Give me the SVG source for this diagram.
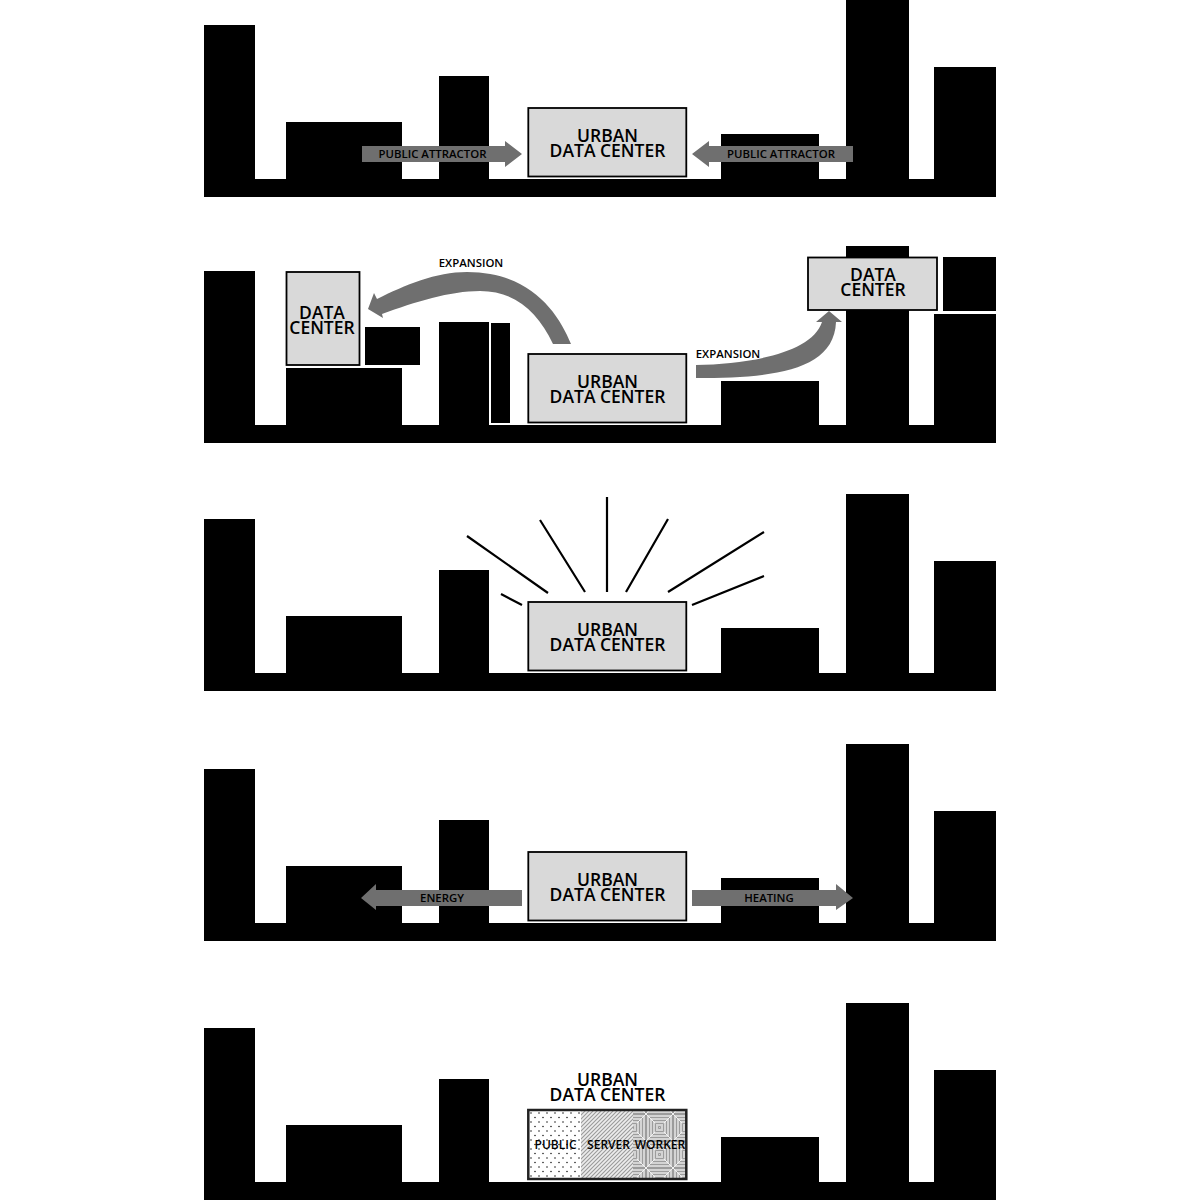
<svg xmlns="http://www.w3.org/2000/svg" width="1200" height="1200" viewBox="0 0 1200 1200">
<style>
.dc{fill:#d9d9d9;stroke:#000;stroke-width:1.800}
.t{font-family:"Open Sans","Liberation Sans",sans-serif;font-weight:600;text-anchor:middle;fill:#000}
.big{font-size:17.5px}
.sm{font-size:11.400px}
.sm2{font-size:12px}
.ar{fill:#6f6f6f}
.ray{stroke:#000;stroke-width:2.200;fill:none}
</style>
<defs>
<path id="city" d="M204 197V25H255V179H286V122H402V179H439V76H489V179H721V134H819V179H846V0H909V179H934V67H996V197Z"/>
<pattern id="dots" width="8" height="9" patternUnits="userSpaceOnUse" x="529" y="1111"><rect width="8" height="9" fill="#fff"/><circle cx="2" cy="2" r="0.8" fill="#222"/><circle cx="6" cy="6.500" r="0.8" fill="#222"/></pattern>
<pattern id="hatch" width="4" height="4" patternUnits="userSpaceOnUse"><rect width="4" height="4" fill="#ececec"/><path d="M-1 5L5 -1M-1 1L1 -1M3 5L5 3" stroke="#9a9a9a" stroke-width="1.100"/></pattern>
<pattern id="maze" width="27" height="27" patternUnits="userSpaceOnUse" x="646" y="1114"><rect width="27" height="27" fill="#d4d4d4"/><path d="M12.500 12.500h2v2h-2zM9.500 9.500h8v8h-8zM6.500 6.500h14v14h-14zM3.500 3.500h20v20h-20zM.5 .5h26v26h-26z" fill="none" stroke="#9c9c9c" stroke-width="1"/><path d="M0 0L9 9M27 0L18 9M0 27L9 18M27 27L18 18" stroke="#f2f2f2" stroke-width="1"/></pattern>
</defs>

<g id="row1">
<use href="#city"/>
<g id="row1-center"><rect class="dc" x="528.300" y="108" width="158" height="68.500"/><text class="t big"><tspan x="607.500" y="142">URBAN</tspan><tspan x="607.500" y="157">DATA CENTER</tspan></text></g>
</g>
<g id="row2">
<path d="M204 443V271H255V425H286V368H402V425H439V322H489V425H721V381H819V425H846V246H909V425H934V314H996V443Z"/>
<rect id="row2-block-a" x="491" y="323" width="19" height="100"/>
<rect id="row2-block-b" x="365" y="327" width="55" height="38"/>
<rect id="row2-block-c" x="943" y="257" width="53" height="54"/>
<g id="row2-center"><rect class="dc" x="528.300" y="354" width="158" height="68.500"/><text class="t big"><tspan x="607.500" y="388">URBAN</tspan><tspan x="607.500" y="403">DATA CENTER</tspan></text></g>
<g id="row2-left"><rect class="dc" x="286.500" y="272" width="73" height="93"/><text class="t big"><tspan x="322" y="319">DATA</tspan><tspan x="322" y="334">CENTER</tspan></text></g>
<g id="row2-right"><rect class="dc" x="808" y="257.500" width="129" height="52.500"/><text class="t big"><tspan x="873" y="281">DATA</tspan><tspan x="873" y="296">CENTER</tspan></text></g>
</g>
<g id="row3">
<use href="#city" y="494"/>
<g id="row3-center"><rect class="dc" x="528.300" y="602" width="158" height="68.500"/><text class="t big"><tspan x="607.500" y="636">URBAN</tspan><tspan x="607.500" y="651">DATA CENTER</tspan></text></g>
</g>
<g id="row4">
<use href="#city" y="744"/>
<g id="row4-center"><rect class="dc" x="528.300" y="852" width="158" height="68.500"/><text class="t big"><tspan x="607.500" y="886">URBAN</tspan><tspan x="607.500" y="901">DATA CENTER</tspan></text></g>
</g>
<g id="row5">
<use href="#city" y="1003"/>
<g id="row5-center">
<rect x="528" y="1110" width="53" height="69" fill="url(#dots)"/>
<rect x="581" y="1110" width="52" height="69" fill="url(#hatch)"/>
<rect x="633" y="1110" width="54" height="69" fill="url(#maze)"/>
<rect x="528.300" y="1110" width="158" height="69" fill="none" stroke="#222" stroke-width="2.500"/>
<text class="t big"><tspan x="607.500" y="1086">URBAN</tspan><tspan x="607.500" y="1101">DATA CENTER</tspan></text>
<text class="t sm2" x="555.500" y="1149">PUBLIC</text><text class="t sm2" x="608.500" y="1149">SERVER</text><text class="t sm2" x="660" y="1149">WORKER</text>
</g>
</g>
<g id="connectors">
<path class="ar" d="M362 146H505V141L522 154L505 167V162H362Z"/>
<path class="ar" d="M853 146H709V141L692 154L709 167V162H853Z"/>
<path class="ar" d="M522 890H376V884L361 898L376 910V906H522Z"/>
<path class="ar" d="M692 890H836V884L853 898L836 910V906H692Z"/>
<path class="ar" d="M571 344C558 312 530 272 467 272C436 272 405 285 377 299L374 293L368 309L383 318L382 314C415 302 450 291 480 291C515 291 538 312 553 344Z"/>
<path class="ar" d="M696 365C750 364 812 353 822 322H816L829 311L842 322H836C834 372 770 378 696 378Z"/>
<path class="ray" d="M467 536L548 593M540 520L585 592M607 497V592M668 519L626 592M764 532L668 592M764 576L692 605M501 594L522 605"/>
</g>
<g id="labels">
<text class="t sm" x="432.500" y="158">PUBLIC ATTRACTOR</text>
<text class="t sm" x="781" y="158">PUBLIC ATTRACTOR</text>
<text class="t sm" x="442" y="902">ENERGY</text>
<text class="t sm" x="769" y="902">HEATING</text>
<text class="t sm" x="471" y="267">EXPANSION</text>
<text class="t sm" x="728" y="358">EXPANSION</text>
</g>
</svg>
